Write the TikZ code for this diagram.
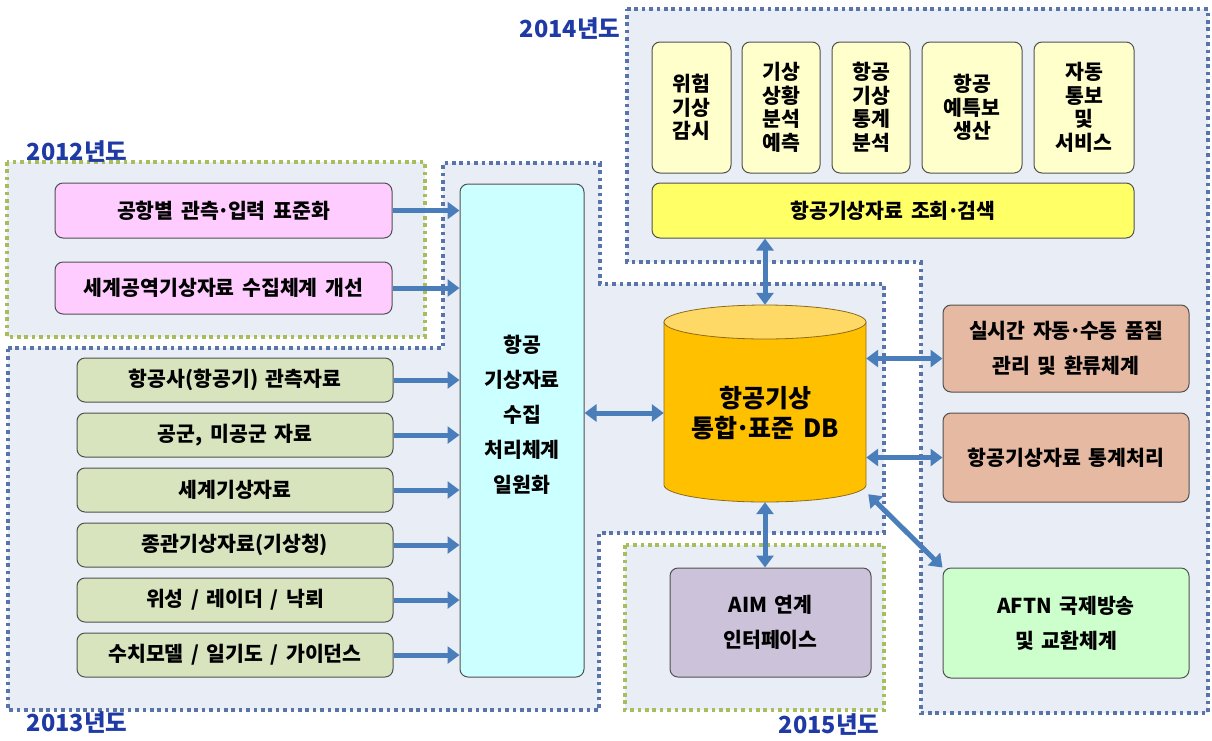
\documentclass[tikz,border=0pt]{standalone}
\usepackage{fontspec}
\setmainfont[WordSpace=1.6]{Noto Sans CJK KR}
\usetikzlibrary{arrows.meta,calc}
\newcommand\kdot{\kern-0.08em·\kern-0.08em}
\definecolor{regfill}{HTML}{E9EEF6}
\definecolor{bluedot}{HTML}{5874A8}
\definecolor{greendot}{HTML}{A8BE5C}
\definecolor{boxline}{HTML}{505050}
\definecolor{pinkfill}{HTML}{FFCCFF}
\definecolor{olivefill}{HTML}{D8E4BE}
\definecolor{cyanfill}{HTML}{CCFFFF}
\definecolor{lyellow}{HTML}{FFFFCC}
\definecolor{yellowbar}{HTML}{FFFF66}
\definecolor{tanfill}{HTML}{E6B9A2}
\definecolor{greenfill}{HTML}{CCFFCC}
\definecolor{lavfill}{HTML}{CCC2DA}
\definecolor{dbbody}{HTML}{FFC000}
\definecolor{dbtop}{HTML}{FFD966}
\definecolor{dbline}{HTML}{8C6A1A}
\definecolor{arrowc}{HTML}{4A7EBB}
\definecolor{yearc}{HTML}{1F3AA4}
\tikzset{
  region/.style={fill=regfill},
  bluedotted/.style={draw=bluedot, line width=3.6pt, dash pattern=on 3.6pt off 3.8pt},
  greendotted/.style={draw=greendot, line width=3.6pt, dash pattern=on 3.6pt off 3.8pt},
  box/.style={draw=boxline, line width=1pt, rounded corners=8pt, align=center, inner sep=0pt,
    font=\bfseries\fontsize{20.5}{35}\selectfont},
  pinkbox/.style={box, fill=pinkfill},
  olivebox/.style={box, fill=olivefill, minimum width=316pt, minimum height=44pt},
  cyanbox/.style={box, fill=cyanfill},
  tallbox/.style={box, fill=lyellow, minimum height=131pt, font=\bfseries\fontsize{20.5}{23.5}\selectfont},
  barbox/.style={box, fill=yellowbar},
  tanbox/.style={box, fill=tanfill, minimum width=246pt},
  greenbox/.style={box, fill=greenfill},
  lavbox/.style={box, fill=lavfill},
  plain/.style={align=center, inner sep=0pt},
  yearlabel/.style={inner sep=0pt, text=yearc, font=\bfseries\fontsize{23.5}{26}\selectfont},
  arr/.style={draw=arrowc, line width=5pt, -{Triangle[width=17pt,length=12pt]}},
  dbl/.style={draw=arrowc, line width=5pt, {Triangle[width=17pt,length=12pt]}-{Triangle[width=17pt,length=12pt]}}
}
\begin{document}
\begin{tikzpicture}[x=1pt,y=-1pt]
\useasboundingbox[fill=white] (0,0) rectangle (1212,740);
% regions
\fill[region] (7,162) rectangle (425,337);
\fill[region] (8,348) -- (443,348) -- (443,163) -- (600,163) -- (600,284) -- (884,284) -- (884,533) -- (599,533) -- (599,710) -- (8,710) -- cycle;
\fill[region] (627,9) -- (1208,9) -- (1208,713) -- (921,713) -- (921,262) -- (627,262) -- cycle;
\fill[region] (625,545) rectangle (884,710);
\draw[greendotted] (7,162) rectangle (425,337);
\draw[bluedotted] (8,348) -- (443,348) -- (443,163) -- (600,163) -- (600,284) -- (884,284) -- (884,533) -- (599,533) -- (599,710) -- (8,710) -- cycle;
\draw[bluedotted] (627,9) -- (1208,9) -- (1208,713) -- (921,713) -- (921,262) -- (627,262) -- cycle;
\draw[greendotted] (625,545) rectangle (884,710);
% year labels
\node[yearlabel] (y2012) at (77,152) {2012년도};
\node[yearlabel] (y2013) at (77,723) {2013년도};
\node[yearlabel] (y2014) at (570,29) {2014년도};
\node[yearlabel] (y2015) at (829,725) {2015년도};
% 2012 boxes
\node[pinkbox, minimum width=337pt, minimum height=55pt] (p1) at (223.5,210.5) {공항별 관측\kdot 입력 표준화};
\node[pinkbox, minimum width=337pt, minimum height=52pt] (p2) at (223.5,288) {세계공역기상자료 수집체계 개선};
% 2013 boxes
\node[olivebox] (o1) at (235,380) {항공사(항공기) 관측자료};
\node[olivebox] (o2) at (235,435) {공군, 미공군 자료};
\node[olivebox] (o3) at (235,490) {세계기상자료};
\node[olivebox] (o4) at (235,545) {종관기상자료(기상청)};
\node[olivebox] (o5) at (235,600) {위성 / 레이더 / 낙뢰};
\node[olivebox] (o6) at (235,655) {수치모델 / 일기도 / 가이던스};
% collection system
\node[cyanbox, minimum width=124pt, minimum height=493pt] (c) at (522,430.5) {};
\node[plain, font=\bfseries\fontsize{20.5}{35}\selectfont] (ctext) at (522,415) {항공\\기상자료\\수집\\처리체계\\일원화};
% database cylinder
\fill[fill=dbbody, draw=dbline, line width=0.8pt] (664,322) -- (664,485) arc[start angle=180, end angle=360, x radius=101pt, y radius=17pt] -- (866,322) -- cycle;
\draw[fill=dbtop, draw=dbline, line width=0.8pt] (765,322) ellipse [x radius=101pt, y radius=17pt];
\node[plain, minimum width=202pt, minimum height=197pt] (db) at (765,403.5) {};
\node[plain, font=\bfseries\fontsize{25}{30}\selectfont] (dbtext) at (765,413) {항공기상\\통합\kdot 표준 DB};
% 2014 boxes
\node[tallbox, minimum width=79pt] (t1) at (691.5,107.5) {위험\\기상\\감시};
\node[tallbox, minimum width=78pt] (t2) at (781,107.5) {기상\\상황\\분석\\예측};
\node[tallbox, minimum width=78pt] (t3) at (871,107.5) {항공\\기상\\통계\\분석};
\node[tallbox, minimum width=100pt] (t4) at (972,107.5) {항공\\예특보\\생산};
\node[tallbox, minimum width=100pt] (t5) at (1084,107.5) {자동\\통보\\및\\서비스};
\node[barbox, minimum width=482pt, minimum height=55pt] (q) at (893,210.5) {항공기상자료 조회\kdot 검색};
\node[tanbox, minimum height=87pt] (r1) at (1066,348.5) {실시간 자동\kdot 수동 품질\\관리 및 환류체계};
\node[tanbox, minimum height=89pt] (r2) at (1066,457.5) {항공기상자료 통계처리};
\node[greenbox, minimum width=246pt, minimum height=110pt] (aftn) at (1066,623) {AFTN 국제방송\\및 교환체계};
% 2015 box
\node[lavbox, minimum width=201pt, minimum height=109pt] (aim) at (770.5,622.5) {AIM 연계\\인터페이스};
% arrows into collection system
\foreach \b in {p1,p2,o1,o2,o3,o4,o5,o6} {
  \draw[arr] (\b.east) -- (\b.east -| c.west);
}
\draw[dbl] (c.east |- dbtext) -- (db.west |- dbtext);
\draw[dbl] (q.south -| db.north) -- (db.north);
\draw[dbl] (db.south) -- (aim.north -| db.south);
\coordinate (a1) at ($(r1.west)+(0,10)$);
\draw[dbl] (db.east |- a1) -- (a1);
\draw[dbl] (db.east |- r2.west) -- (r2.west);
\coordinate (a3) at ($(db.south east)+(2,-8)$);
\draw[dbl] (a3) -- (aftn.north west);
\end{tikzpicture}
\end{document}
